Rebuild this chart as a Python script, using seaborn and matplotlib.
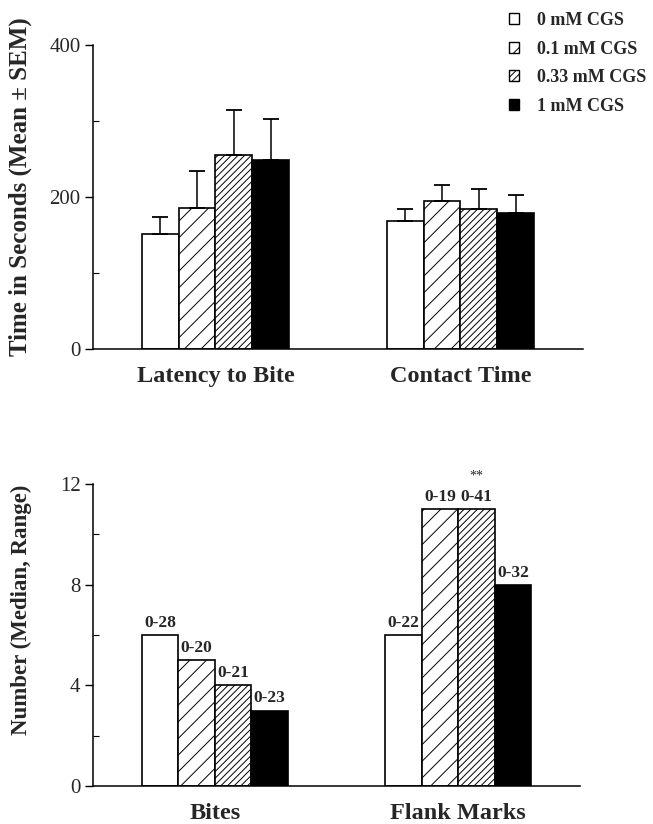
import pandas as pd
import seaborn as sns
import matplotlib.pyplot as plt
from matplotlib.patches import Patch
from matplotlib.ticker import MultipleLocator

# Data
doses = ['0 mM CGS', '0.1 mM CGS', '0.33 mM CGS', '1 mM CGS']
top_measures = ['Latency to Bite', 'Contact Time']
latency_mean = [151, 185, 255, 249]
latency_sem = [23, 49, 59, 53]
contact_mean = [168, 195, 184, 179]
contact_sem = [16, 21, 26, 24]

bottom_measures = ['Bites', 'Flank Marks']
bites_median = [6, 5, 4, 3]
bites_range = ['0-28', '0-20', '0-21', '0-23']
flank_median = [6, 11, 11, 8]
flank_range = ['0-22', '0-19', '0-41', '0-32']

# Bar styles
fills = ['white', 'white', 'white', 'black']
hatches = ['', '//', '/////', '']

sns.set_style('white')
plt.rcParams['font.family'] = ['Liberation Serif', 'DejaVu Serif']
plt.rcParams['hatch.linewidth'] = 0.7

top_df = pd.DataFrame({
    'measure': [top_measures[0]] * 4 + [top_measures[1]] * 4,
    'dose': doses * 2,
    'value': latency_mean + contact_mean,
})
bottom_df = pd.DataFrame({
    'measure': [bottom_measures[0]] * 4 + [bottom_measures[1]] * 4,
    'dose': doses * 2,
    'value': bites_median + flank_median,
})

fig = plt.figure(figsize=(6.53, 8.24), dpi=100)
ax1 = fig.add_axes([0.1424, 0.5765, 0.7504, 0.3689])
ax2 = fig.add_axes([0.1424, 0.0461, 0.7458, 0.3665])


def draw_bars(ax, df):
    sns.barplot(data=df, x='measure', y='value', hue='dose', hue_order=doses,
                palette=fills, width=0.6, edgecolor='black', linewidth=1.2,
                errorbar=None, legend=False, ax=ax)
    conts = list(ax.containers)
    for cont, h in zip(conts, hatches):
        for bar in cont:
            bar.set_hatch(h)
            bar.set_edgecolor('black')
    ax.set_xlim(-0.5, 1.5)
    ax.set_xlabel('')
    sns.despine(ax=ax)
    for s in ['left', 'bottom']:
        ax.spines[s].set_color('black')
        ax.spines[s].set_linewidth(1.1)
    ax.tick_params(axis='x', length=0, pad=12, labelsize=17.5)
    for lab in ax.get_xticklabels():
        lab.set_fontweight('bold')
    ax.tick_params(axis='y', which='major', direction='out', length=6,
                   width=1, labelsize=15, pad=3, left=True, color='black')
    ax.tick_params(axis='y', which='minor', direction='in', length=4,
                   width=0.8, left=True, color='black')
    return conts


# Top panel: mean +/- SEM
top_bars = draw_bars(ax1, top_df)
ax1.set_ylim(0, 400)
ax1.yaxis.set_major_locator(MultipleLocator(200))
ax1.yaxis.set_minor_locator(MultipleLocator(100))
ax1.set_ylabel('Time in Seconds (Mean \u00b1 SEM)', fontsize=18, fontweight='bold')
ax1.yaxis.set_label_coords(-0.125, 0.533)

for i, cont in enumerate(top_bars):
    xs = [b.get_x() + b.get_width() / 2 for b in cont]
    means = [latency_mean[i], contact_mean[i]]
    sems = [latency_sem[i], contact_sem[i]]
    ax1.errorbar(xs, means, yerr=[[0, 0], sems], fmt='none', ecolor='black',
                 elinewidth=1.1, capsize=6, capthick=1.3, zorder=1)

# Bottom panel: median with range labels
bottom_bars = draw_bars(ax2, bottom_df)
ax2.set_ylim(0, 12)
ax2.yaxis.set_major_locator(MultipleLocator(4))
ax2.yaxis.set_minor_locator(MultipleLocator(2))
ax2.set_ylabel('Number (Median, Range)', fontsize=16.5, fontweight='bold')
ax2.yaxis.set_label_coords(-0.125, 0.583)

for i, cont in enumerate(bottom_bars):
    labels = [bites_range[i], flank_range[i]]
    for bar, lab in zip(cont, labels):
        ax2.annotate(lab, (bar.get_x() + bar.get_width() / 2, bar.get_height()),
                     xytext=(0, 3), textcoords='offset points', ha='center',
                     va='bottom', fontsize=12.5, fontweight='bold')

star_bar = bottom_bars[2][1]
ax2.annotate('**', (star_bar.get_x() + star_bar.get_width() / 2, star_bar.get_height()),
             xytext=(0, 19), textcoords='offset points', ha='center',
             va='bottom', fontsize=10)

# Legend
handles = [Patch(facecolor=f, edgecolor='black', hatch=h, linewidth=1)
           for f, h in zip(fills, hatches)]
fig.legend(handles, doses, loc='upper left', bbox_to_anchor=(0.769, 0.994),
           frameon=False, borderaxespad=0, borderpad=0.4,
           handlelength=0.55, handleheight=0.55,
           handletextpad=1.0, labelspacing=0.64,
           prop={'family': 'Liberation Serif', 'weight': 'bold', 'size': 13})

fig.savefig('out.png', dpi=100)
